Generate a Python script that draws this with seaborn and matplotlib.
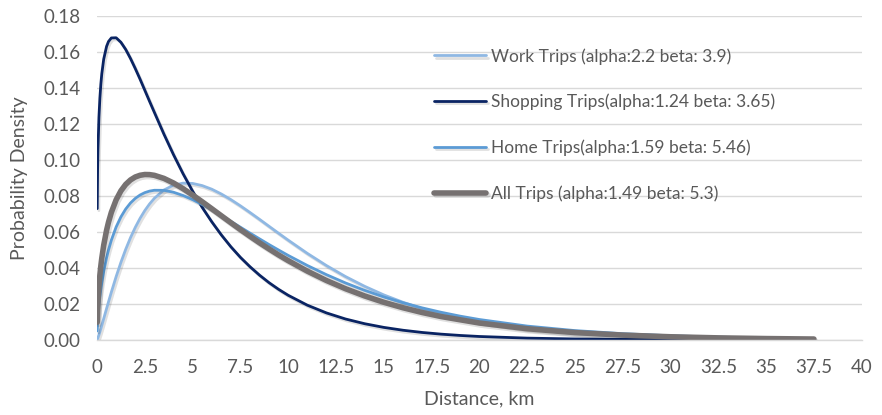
import matplotlib
matplotlib.use("Agg")
import matplotlib.pyplot as plt
import matplotlib.patheffects as pe
import pandas as pd
import seaborn as sns

# Distance grid (km) at which each density curve is sampled
distance = [0.01, 0.03, 0.05, 0.1, 0.15, 0.2, 0.25, 0.35, 0.5, 0.6, 0.75, 1,
            1.25, 1.5, 1.75, 2, 2.25, 2.5, 2.75, 3, 3.5, 4, 4.5, 5, 5.5, 6,
            6.5, 7, 7.5, 8, 8.5, 9, 9.5, 10, 11, 12, 13, 14, 15, 16, 17, 18,
            19, 20, 22.5, 25, 27.5, 30, 32.5, 35, 37.5]

work_trips = [0.00018, 0.00067, 0.00123, 0.00279, 0.00449, 0.00626, 0.00808,
              0.01179, 0.01741, 0.02111, 0.02655, 0.03517, 0.04310, 0.05033,
              0.05680, 0.06253, 0.06755, 0.07190, 0.07560, 0.07871, 0.08332,
              0.08603, 0.08716, 0.08700, 0.08580, 0.08380, 0.08114, 0.07801,
              0.07455, 0.07085, 0.06704, 0.06315, 0.05928, 0.05546, 0.04811,
              0.04133, 0.03520, 0.02978, 0.02502, 0.02093, 0.01741, 0.01443,
              0.01192, 0.00981, 0.00595, 0.00356, 0.00210, 0.00123, 0.00071,
              0.00041, 0.00024]

shopping_trips = [0.0730, 0.0945, 0.1062, 0.1237, 0.1345, 0.1422, 0.1480,
                  0.1561, 0.1632, 0.1659, 0.1679, 0.1680, 0.1655, 0.1615,
                  0.1565, 0.1509, 0.1450, 0.1388, 0.1326, 0.1265, 0.1144,
                  0.1030, 0.0924, 0.0827, 0.0737, 0.0657, 0.0584, 0.0518,
                  0.0459, 0.0407, 0.0360, 0.0318, 0.0281, 0.0248, 0.0193,
                  0.0150, 0.01161, 0.00899, 0.00695, 0.00537, 0.00414,
                  0.00319, 0.00246, 0.00189, 0.00098, 0.00051, 0.00026,
                  0.000135, 0.000069, 0.000036, 0.000018]

home_trips = [0.00497, 0.00947, 0.01276, 0.01903, 0.02395, 0.02812, 0.03178,
              0.03805, 0.04570, 0.04997, 0.05546, 0.06277, 0.06839, 0.07275,
              0.07612, 0.07866, 0.08055, 0.08188, 0.08274, 0.08320, 0.08316,
              0.08210, 0.08030, 0.07797, 0.07527, 0.07230, 0.06916, 0.06593,
              0.06266, 0.05939, 0.05618, 0.05300, 0.04995, 0.04696, 0.04137,
              0.03626, 0.03165, 0.02754, 0.02388, 0.02066, 0.01782, 0.01535,
              0.01319, 0.01133, 0.00768, 0.00517, 0.00346, 0.00230, 0.00153,
              0.00101, 0.00067]

all_trips = [0.00983, 0.01678, 0.02147, 0.02986, 0.03609, 0.04117, 0.04549,
             0.05265, 0.06096, 0.06541, 0.07092, 0.07789, 0.08288, 0.08646,
             0.08893, 0.09058, 0.09153, 0.09196, 0.09190, 0.09150, 0.08980,
             0.08724, 0.08408, 0.08058, 0.07682, 0.07296, 0.06904, 0.06515,
             0.06132, 0.05760, 0.05398, 0.05053, 0.04720, 0.04406, 0.03823,
             0.03303, 0.02845, 0.02443, 0.02092, 0.01788, 0.01525, 0.01298,
             0.01117, 0.00938, 0.00620, 0.00407, 0.00266, 0.00173, 0.00112,
             0.00073, 0.00047]

series_labels = ["Work Trips (alpha:2.2 beta: 3.9)",
                 "Shopping Trips(alpha:1.24 beta: 3.65)",
                 "Home Trips(alpha:1.59 beta: 5.46)",
                 "All Trips (alpha:1.49 beta: 5.3)"]
series_values = [work_trips, shopping_trips, home_trips, all_trips]
series_colors = ["#8FB8E3", "#0A2463", "#5B9BD5", "#767171"]
series_widths = [2.0, 2.0, 2.0, 4.0]

x_ticks = [0, 2.5, 5, 7.5, 10, 12.5, 15, 17.5, 20, 22.5, 25, 27.5, 30, 32.5,
           35, 37.5, 40]
x_tick_labels = ["0", "2.5", "5", "7.5", "10", "12.5", "15", "17.5", "20",
                 "22.5", "25", "27.5", "30", "32.5", "35", "37.5", "40"]
y_ticks = [0.00, 0.02, 0.04, 0.06, 0.08, 0.10, 0.12, 0.14, 0.16, 0.18]
y_tick_labels = ["0.00", "0.02", "0.04", "0.06", "0.08", "0.10", "0.12",
                 "0.14", "0.16", "0.18"]

sns.set_theme(style="white")
plt.rcParams["font.family"] = ["Lato", "DejaVu Sans"]

text_color = "#595959"
grid_color = "#D9D9D9"

fig = plt.figure(figsize=(8.82, 4.15), dpi=100)
ax = fig.add_axes([0.110, 0.181, 0.867, 0.780])

for label, values, color, lw in zip(series_labels, series_values,
                                    series_colors, series_widths):
    frame = pd.DataFrame({"distance": distance, "density": values})
    sns.lineplot(data=frame, x="distance", y="density", ax=ax, color=color,
                 linewidth=lw, label=label, sort=False,
                 solid_capstyle="round", solid_joinstyle="round")

# soft drop shadow under every curve
shadow = [pe.SimpleLineShadow(offset=(1.2, -1.5), shadow_color="black",
                              alpha=0.12), pe.Normal()]
for line in ax.get_lines():
    line.set_path_effects(shadow)

ax.set_xlim(0, 40)
ax.set_ylim(0, 0.18)
ax.set_xticks(x_ticks)
ax.set_xticklabels(x_tick_labels)
ax.set_yticks(y_ticks)
ax.set_yticklabels(y_tick_labels)
ax.tick_params(axis="both", length=0, labelsize=13.5, colors=text_color)
ax.tick_params(axis="y", pad=12)
ax.tick_params(axis="x", pad=14)

ax.grid(axis="y", color=grid_color, linewidth=1.0)
ax.grid(axis="x", visible=False)
ax.set_axisbelow(True)
for side in ["top", "right", "left"]:
    ax.spines[side].set_visible(False)
ax.spines["bottom"].set_color(grid_color)
ax.spines["bottom"].set_linewidth(1.0)

ax.set_xlabel("Distance, km", fontsize=14, color=text_color, labelpad=10)
ax.set_ylabel("Probability Density", fontsize=14, color=text_color,
              labelpad=11)

leg = ax.legend(loc="upper left", bbox_to_anchor=(434 / 882, 1 - 48 / 415),
                bbox_transform=fig.transFigure, frameon=False, borderpad=0,
                borderaxespad=0, handlelength=3.0, handletextpad=0.3,
                labelspacing=1.68, fontsize=12.5)
for text in leg.get_texts():
    text.set_color(text_color)

fig.savefig("out.png", dpi=100)
